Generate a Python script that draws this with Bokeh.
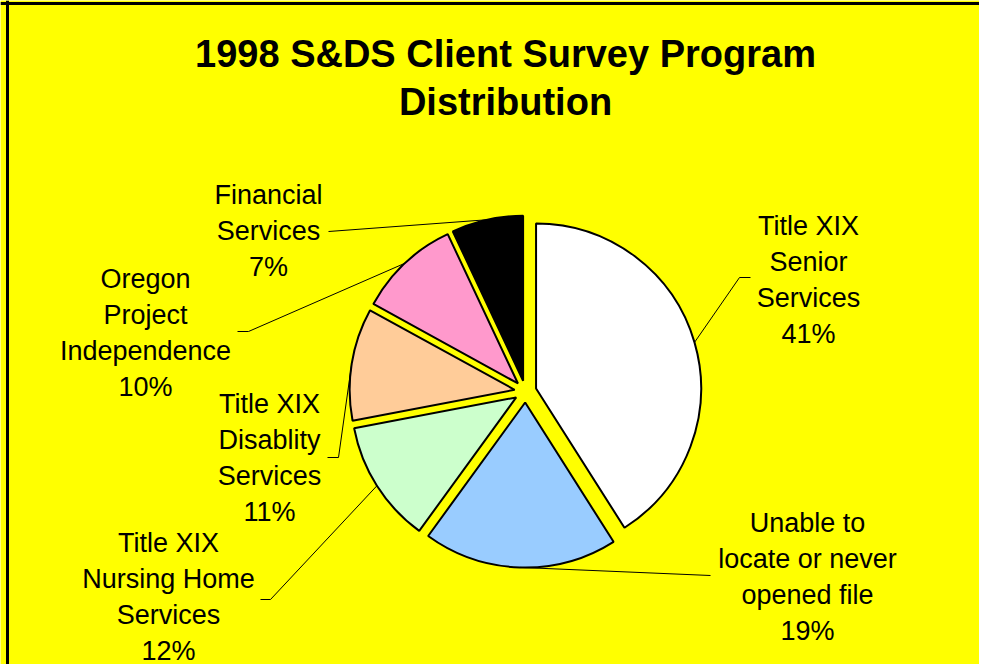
import numpy as np
from bokeh.plotting import figure
from bokeh.models import Range1d, Span, ColumnDataSource
from bokeh.core.properties import value
from bokeh.embed import file_html
from bokeh.resources import INLINE

# ---------------- data ----------------
title_lines = ["1998 S&DS Client Survey Program", "Distribution"]
categories = [
    "Title XIX Senior Services",
    "Unable to locate or never opened file",
    "Title XIX Nursing Home Services",
    "Title XIX Disablity Services",
    "Oregon Project Independence",
    "Financial Services",
]
label_lines = [
    ["Title XIX", "Senior", "Services"],
    ["Unable to", "locate or never", "opened file"],
    ["Title XIX", "Nursing Home", "Services"],
    ["Title XIX", "Disablity", "Services"],
    ["Oregon", "Project", "Independence"],
    ["Financial", "Services"],
]
percent = [41, 19, 12, 11, 10, 7]
colors = ["#FFFFFF", "#99CCFF", "#CCFFCC", "#FFCC99", "#FF99CC", "#000000"]

# ---------------- layout (pixel coords, y downward) ----------------
CX, CY = 525, 391
R = 165
EXPLODE = 11
LINE_SP = 36
label_pos = [(808, 279), (807, 576), (168, 596), (269, 457), (145, 332), (268, 230)]
leader_end = [(750, 277), (710, 575), (260, 599), (327, 457), (237, 331), (328, 231)]
leader_elbow = [(739, 277), (710, 575), (270, 599), (338, 457), (248, 331), (328, 231)]
FONT = "Liberation Sans"
W, H = 979, 664

p = figure(width=W, height=H,
           x_range=Range1d(0, W), y_range=Range1d(-H, 0),
           output_backend="svg", toolbar_location=None,
           x_axis_location=None, y_axis_location=None,
           min_border=0, background_fill_color="#FFFF00",
           border_fill_color="#FFFF00", outline_line_color=None)
p.grid.visible = False

frac = np.array(percent, dtype=float) / sum(percent)
cum = np.concatenate([[0.0], np.cumsum(frac)])
start = np.pi / 2 - 2 * np.pi * cum[1:]
end = np.pi / 2 - 2 * np.pi * cum[:-1]
mid = 2 * np.pi * (cum[:-1] + cum[1:]) / 2  # clockwise from top
wx = CX + EXPLODE * np.sin(mid)
wy = -CY + EXPLODE * np.cos(mid)

src = ColumnDataSource(dict(x=wx, y=wy, start=start, end=end, color=colors, cat=categories))
p.wedge(x="x", y="y", radius=R, start_angle="start", end_angle="end",
        fill_color="color", line_color="black", line_width=2, source=src)

# leader lines
ax = CX + (EXPLODE + R) * np.sin(mid)
ay = -CY + (EXPLODE + R) * np.cos(mid)
xs, ys = [], []
for i in range(len(percent)):
    xs.append([ax[i], leader_elbow[i][0], leader_end[i][0]])
    ys.append([ay[i], -leader_elbow[i][1], -leader_end[i][1]])
p.multi_line(xs=xs, ys=ys, line_color="black", line_width=1)

# labels
tx, ty, tt = [], [], []
for i, lines in enumerate(label_lines):
    lines = lines + [f"{percent[i]}%"]
    n = len(lines)
    for k, s in enumerate(lines):
        tx.append(label_pos[i][0])
        ty.append(-(label_pos[i][1] + (k - (n - 1) / 2) * LINE_SP))
        tt.append(s)
p.text(x=tx, y=ty, text=tt, text_font=value(FONT), text_font_size="27px",
       text_align="center", text_baseline="middle", text_color="black")

# title
p.text(x=[505, 505], y=[-53, -101], text=title_lines, text_font=value(FONT),
       text_font_size="38px", text_font_style="bold",
       text_align="center", text_baseline="middle", text_color="black")

# frame border (left and top only visible)
p.add_layout(Span(location=7, dimension="height", line_color="black", line_width=3))
p.add_layout(Span(location=-3, dimension="width", line_color="black", line_width=3))

open("out.html", "w").write(file_html(p, INLINE))
